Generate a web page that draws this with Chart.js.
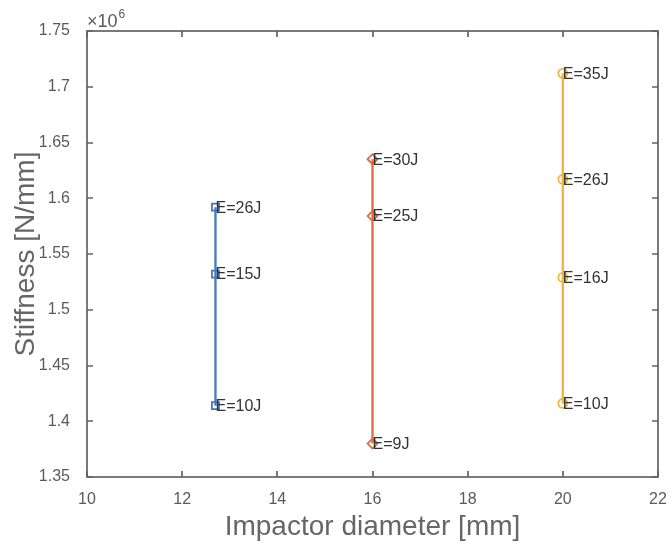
<!DOCTYPE html>
<html>
<head>
<meta charset="utf-8">
<script src="https://cdn.jsdelivr.net/npm/chart.js@4"></script>
<style>
  html, body { margin: 0; padding: 0; background: #fff; }
  #wrap { width: 669px; height: 544px; }
</style>
</head>
<body>
<div id="wrap"><canvas id="grafico"></canvas></div>
<script>
// diametros del impactador [mm]
const diametros = [12.7, 16, 20];

// rigidez [N/mm] por diametro
const rigidez127 = [1592000, 1532000, 1414000];
const rigidez16 = [1635000, 1584000, 1380000];
const rigidez20 = [1712000, 1617000, 1529000, 1416000];

// energias de impacto
const energia127 = ['E=26J', 'E=15J', 'E=10J'];
const energia16 = ['E=30J', 'E=25J', 'E=9J'];
const energia20 = ['E=35J', 'E=26J', 'E=16J', 'E=10J'];

const xTicks = [10, 12, 14, 16, 18, 20, 22];
const yTicks = [1.35, 1.4, 1.45, 1.5, 1.55, 1.6, 1.65, 1.7, 1.75];

const ejeColor = '#636363';
const textoColor = '#5a5a5a';
const fuente = '"Liberation Sans", Arial, Helvetica, sans-serif';

const serie = (x, ys, color, estilo, radio, etiquetas) => ({
    data: ys.map(y => ({ x: x, y: y })),
    etiquetas: etiquetas,
    showLine: true,
    borderColor: color,
    backgroundColor: color,
    borderWidth: 2.3,
    pointStyle: estilo,
    pointRadius: radio,
    pointHoverRadius: radio,
    pointBorderWidth: 1.8,
    pointBorderColor: color,
    pointBackgroundColor: 'rgba(255,255,255,0)'
});

// caja estilo matlab con marcas hacia adentro
const caja = {
    id: 'caja',
    afterDraw(chart) {
        const { ctx, chartArea: a, scales } = chart;
        ctx.save();
        ctx.strokeStyle = ejeColor;
        ctx.lineWidth = 1.7;
        ctx.strokeRect(a.left, a.top, a.right - a.left, a.bottom - a.top);
        ctx.beginPath();
        xTicks.forEach(v => {
            const px = Math.round(scales.x.getPixelForValue(v));
            ctx.moveTo(px, a.bottom); ctx.lineTo(px, a.bottom - 6);
            ctx.moveTo(px, a.top); ctx.lineTo(px, a.top + 6);
        });
        yTicks.forEach(v => {
            const py = Math.round(scales.y.getPixelForValue(v * 1e6));
            ctx.moveTo(a.left, py); ctx.lineTo(a.left + 6, py);
            ctx.moveTo(a.right, py); ctx.lineTo(a.right - 6, py);
        });
        ctx.stroke();
        // multiplicador del eje y
        ctx.fillStyle = textoColor;
        ctx.textBaseline = 'alphabetic';
        ctx.textAlign = 'left';
        ctx.font = '18px ' + fuente;
        ctx.fillText('\u00d710', a.left, a.top - 4);
        const w = ctx.measureText('\u00d710').width;
        ctx.font = '12px ' + fuente;
        ctx.fillText('6', a.left + w + 1, a.top - 13);
        ctx.restore();
    }
};

// etiquetas de energia junto a cada punto
const etiquetas = {
    id: 'etiquetas',
    afterDatasetsDraw(chart) {
        const ctx = chart.ctx;
        ctx.save();
        ctx.fillStyle = '#333333';
        ctx.font = '16px ' + fuente;
        ctx.textAlign = 'left';
        ctx.textBaseline = 'middle';
        chart.data.datasets.forEach((ds, i) => {
            chart.getDatasetMeta(i).data.forEach((p, j) => {
                ctx.fillText(ds.etiquetas[j], p.x, p.y + 1);
            });
        });
        ctx.restore();
    }
};

new Chart(document.getElementById('grafico'), {
    type: 'scatter',
    data: {
        datasets: [
            serie(diametros[0], rigidez127, '#4279c0', 'rect', 5, energia127),
            serie(diametros[1], rigidez16, '#dd6b3d', 'rectRot', 5, energia16),
            serie(diametros[2], rigidez20, '#efb43f', 'circle', 4.5, energia20)
        ]
    },
    options: {
        responsive: true,
        maintainAspectRatio: false,
        animation: false,
        layout: { padding: { top: 31, right: 11, left: 0, bottom: 0 } },
        plugins: { legend: { display: false }, tooltip: { enabled: false } },
        scales: {
            x: {
                min: 10, max: 22,
                grid: { display: false },
                border: { display: false },
                afterBuildTicks: s => { s.ticks = xTicks.map(v => ({ value: v })); },
                afterFit: s => { s.height = 67; s.paddingLeft = 0; s.paddingRight = 0; },
                ticks: { color: textoColor, font: { size: 16, family: fuente }, padding: 5 },
                title: {
                    display: true, text: 'Impactor diameter [mm]', color: '#666666',
                    font: { size: 28, family: fuente }, padding: { top: 0, bottom: 0 }
                }
            },
            y: {
                min: 1350000, max: 1750000,
                grid: { display: false },
                border: { display: false },
                afterBuildTicks: s => { s.ticks = yTicks.map(v => ({ value: v * 1e6 })); },
                afterFit: s => { s.width = 87; s.paddingTop = 0; s.paddingBottom = 0; },
                ticks: {
                    color: textoColor, font: { size: 16, family: fuente }, padding: 9,
                    callback: v => String(parseFloat((v / 1e6).toFixed(2)))
                },
                title: {
                    display: true, text: 'Stiffness [N/mm]', color: '#666666',
                    font: { size: 28, family: fuente }, padding: { top: 9, bottom: 0 }
                }
            }
        }
    },
    plugins: [caja, etiquetas]
});
</script>
</body>
</html>
